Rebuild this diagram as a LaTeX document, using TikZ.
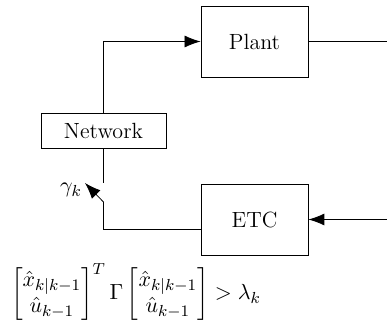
\documentclass[tikz,border=0pt]{standalone}
\usepackage{amsmath,amssymb}
\usepackage{tikz}
\usetikzlibrary{arrows.meta,positioning,calc}

\tikzset{
  block/.style={draw,minimum width=53.5pt,minimum height=35.5pt,inner sep=0pt},
  netblock/.style={draw,minimum width=62.5pt,minimum height=17.5pt,inner sep=0pt},
}

\begin{document}
\begin{tikzpicture}[x=0.5pt,y=0.5pt,>={Latex[length=8pt,width=6pt]},font=\fontsize{11}{13}\selectfont]
  \useasboundingbox (0,0) rectangle (387,328);
  \node[block] (plant) at (254.5,286.5) {Plant};
  \node[block] (etc) at (254.5,108.5) {ETC};
  \node[netblock] (net) at (103.5,197.5) {Network};
  \coordinate (yout) at (387,286.5);
  \coordinate (yin) at (387,108.5);
  \coordinate (swlow) at (103.5,126);
  \coordinate (swtip) at (85,145);
  \coordinate (swup) at (103.5,145);
  % loop
  \draw[->] (net.north) |- (plant.west);
  \draw (plant.east) -- (yout);
  \draw[->] (yin) -- (etc.east);
  \draw ($(etc.west)+(0,-9.5)$) -| (swlow);
  \draw[->] (swlow) -- (swtip);
  \draw (net.south) -- (swup);
  \node (gam) at (71,138) {$\gamma_k$};
  \node (cond) at (136,36) {$\begin{bmatrix}\hat{x}_{k|k-1}\\ \hat{u}_{k-1}\end{bmatrix}^T
    \Gamma\begin{bmatrix}\hat{x}_{k|k-1}\\ \hat{u}_{k-1}\end{bmatrix}>\lambda_k$};
\end{tikzpicture}
\end{document}
